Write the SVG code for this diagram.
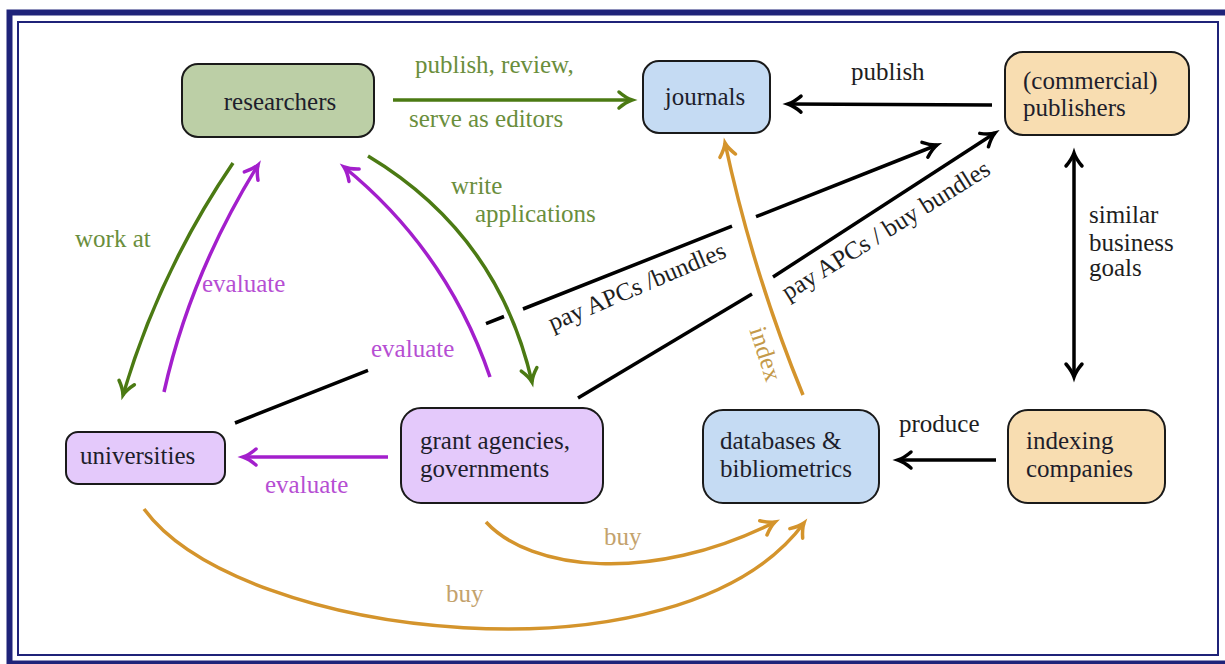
<svg xmlns="http://www.w3.org/2000/svg" width="1225" height="664" viewBox="0 0 1225 664" font-family="'Liberation Serif', 'DejaVu Serif', serif">
<style>
text{font-family:'Liberation Serif','DejaVu Serif',serif;font-size:25px}
.node rect{stroke:#1a1a1a;stroke-width:2}
.nt{fill:#1e1e2c}
.c{fill:none;stroke-width:3.5}
.g{stroke:#4b7a13}.p{stroke:#a31fcc}.o{stroke:#d4942c}.k{stroke:#000}
.lg{fill:#6a8e3c}.lp{fill:#b64ed3}.lo{fill:#c3a26c}.li{fill:#c49a4a}.lk{fill:#1e1e1e}
</style>
<defs>
<marker id="ag" markerUnits="userSpaceOnUse" orient="auto" overflow="visible" markerWidth="1" markerHeight="1"><path d="M-13,-8 Q-6,-2 0,0 Q-6,2 -13,8" fill="none" stroke="#4b7a13" stroke-width="3.5" stroke-linecap="round"/></marker>
<marker id="ap" markerUnits="userSpaceOnUse" orient="auto" overflow="visible" markerWidth="1" markerHeight="1"><path d="M-13,-8 Q-6,-2 0,0 Q-6,2 -13,8" fill="none" stroke="#a31fcc" stroke-width="3.5" stroke-linecap="round"/></marker>
<marker id="ao" markerUnits="userSpaceOnUse" orient="auto" overflow="visible" markerWidth="1" markerHeight="1"><path d="M-13,-8 Q-6,-2 0,0 Q-6,2 -13,8" fill="none" stroke="#d4942c" stroke-width="3.5" stroke-linecap="round"/></marker>
<marker id="ak" markerUnits="userSpaceOnUse" orient="auto" overflow="visible" markerWidth="1" markerHeight="1"><path d="M-13,-8 Q-6,-2 0,0 Q-6,2 -13,8" fill="none" stroke="#000" stroke-width="3.5" stroke-linecap="round"/></marker>
<marker id="aks" markerUnits="userSpaceOnUse" orient="auto-start-reverse" overflow="visible" markerWidth="1" markerHeight="1"><path d="M-13,-8 Q-6,-2 0,0 Q-6,2 -13,8" fill="none" stroke="#000" stroke-width="3.5" stroke-linecap="round"/></marker>
</defs>
<rect width="1225" height="664" fill="#fff"/>
<g id="frame" fill="none" stroke="#1f2379">
<rect x="9.5" y="12.5" width="1230" height="651" stroke-width="6"/>
<rect x="18" y="22" width="1200" height="633" stroke-width="2"/>
</g>
<g id="connectors">
<path class="c g" d="M393,100 L632,100" marker-end="url(#ag)"/>
<text class="lg" x="415" y="73">publish, review,</text>
<text class="lg" x="409" y="127">serve as editors</text>
<path class="c k" d="M992,105 L788,104" marker-end="url(#ak)"/>
<text class="lk" x="851" y="80">publish</text>
<path class="c g" d="M233,163 Q160,270 123,395" marker-end="url(#ag)"/>
<text class="lg" x="75" y="247">work at</text>
<path class="c p" d="M164,392 Q190,275 258,165" marker-end="url(#ap)"/>
<text class="lp" x="202" y="292">evaluate</text>
<path class="c p" d="M490,377 Q447,251 344,167" marker-end="url(#ap)"/>
<text class="lp" x="371" y="357">evaluate</text>
<path class="c g" d="M368,156 Q498,234 532,382" marker-end="url(#ag)"/>
<text class="lg" x="451" y="194">write</text>
<text class="lg" x="475" y="222">applications</text>
<path class="c p" d="M388,457 L243,457" marker-end="url(#ap)"/>
<text class="lp" x="265" y="493">evaluate</text>
<path class="c k" d="M235,423 L368,370.3 M486,323.6 L504,316.5 M523,309 L732,226.2"/>
<path class="c k" d="M756,216.7 L937,145" marker-end="url(#ak)"/>
<text class="lk" transform="translate(640,294) rotate(-23)" text-anchor="middle">pay APCs /bundles</text>
<path class="c k" d="M578,398 L752,294"/>
<path class="c k" d="M773,277 L995,133" marker-end="url(#ak)"/>
<text class="lk" transform="translate(890,237) rotate(-32)" text-anchor="middle">pay APCs / buy bundles</text>
<path class="c o" d="M803,395 Q753,273 725,143" marker-end="url(#ao)"/>
<text class="li" transform="translate(756,357) rotate(72)" text-anchor="middle" dy="-2">index</text>
<path class="c k" d="M1074,153 L1074,377" marker-start="url(#aks)" marker-end="url(#aks)"/>
<text class="lk" x="1089" y="223">similar</text>
<text class="lk" x="1089" y="251">business</text>
<text class="lk" x="1089" y="276">goals</text>
<path class="c k" d="M996,460 L898,460" marker-end="url(#ak)"/>
<text class="lk" x="899" y="432">produce</text>
<path class="c o" d="M486,522 C530,570 650,585 775,522" marker-end="url(#ao)"/>
<text class="lo" x="604" y="545">buy</text>
<path class="c o" d="M144,509 C240,640 680,690 804,523" marker-end="url(#ao)"/>
<text class="lo" x="446" y="602">buy</text>
</g>
<g id="researchers" class="node"><rect x="182" y="64" width="192" height="73" rx="16" fill="#bccfa6"/><text class="nt" x="280" y="110" text-anchor="middle">researchers</text></g>
<g id="journals" class="node"><rect x="643" y="61" width="127" height="72" rx="16" fill="#c5dbf3"/><text class="nt" x="705" y="105" text-anchor="middle">journals</text></g>
<g id="publishers" class="node"><rect x="1005" y="52" width="184" height="83" rx="18" fill="#f8ddb1"/><text class="nt" x="1023" y="89">(commercial)</text><text class="nt" x="1023" y="116">publishers</text></g>
<g id="universities" class="node"><rect x="66" y="432" width="159" height="52" rx="12" fill="#e4c9fb"/><text class="nt" x="80" y="464">universities</text></g>
<g id="grant" class="node"><rect x="401" y="408" width="202" height="95" rx="20" fill="#e4c9fb"/><text class="nt" x="420" y="449">grant agencies,</text><text class="nt" x="420" y="477">governments</text></g>
<g id="databases" class="node"><rect x="703" y="410" width="176" height="93" rx="20" fill="#c5dbf3"/><text class="nt" x="720" y="449">databases &amp;</text><text class="nt" x="720" y="477">bibliometrics</text></g>
<g id="indexing" class="node"><rect x="1008" y="410" width="157" height="93" rx="20" fill="#f8ddb1"/><text class="nt" x="1026" y="449">indexing</text><text class="nt" x="1026" y="477">companies</text></g>
</svg>
